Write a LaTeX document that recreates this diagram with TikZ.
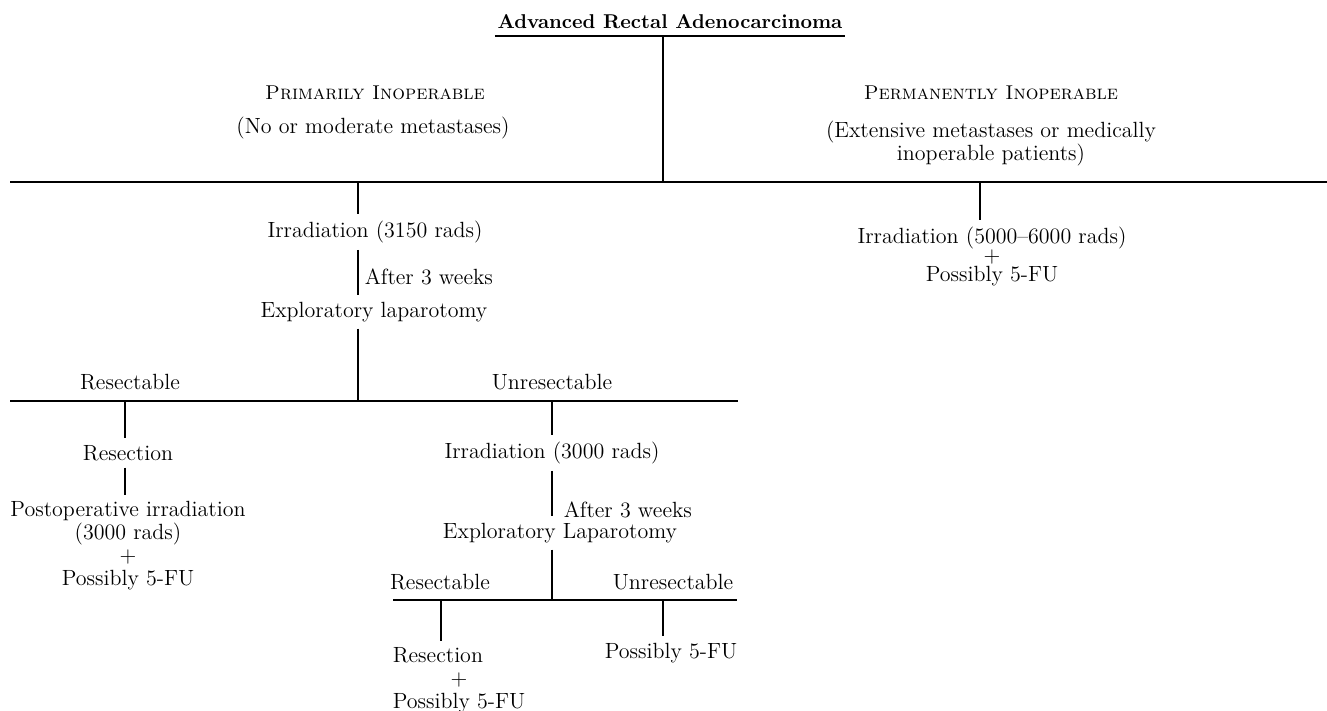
\documentclass[tikz,border=0pt]{standalone}
\usepackage{calc}
\usetikzlibrary{positioning}
\begin{document}
\begin{tikzpicture}[x=0.5pt,y=-0.5pt,line width=0.8pt,
    every node/.style={font=\fontsize{11}{11.5}\selectfont,inner xsep=1pt,inner ysep=3pt,align=center},
    kopf/.style={font=\fontsize{10}{11.5}\selectfont\scshape}]
  \useasboundingbox (0,0) rectangle (1327,711);
  % Kopf und die zwei Gruppen
  \node[font=\fontsize{10}{11.5}\selectfont\bfseries] (T) at (670,22) {Advanced Rectal Adenocarcinoma};
  \node[kopf] (prim) at (375,93) {Primarily Inoperable};
  \node (primx) at (373,128) {(No or moderate metastases)};
  \node[kopf] (perm) at (991,93) {Permanently Inoperable};
  \node (permx) at (991,144) {(Extensive metastases or medically\\inoperable patients)};
  \path (10,182)coordinate(L0)(1327,182)coordinate(R0)(663,182)coordinate(T0)(358,182)coordinate(P0)(980,182)coordinate(Q0);
  % rechter Zweig
  \node (irrc) at (992,256) {Irradiation (5000--6000 rads)\\[-2pt]+\\[-2pt]Possibly 5-FU};
  % linker Zweig
  \node (irra) at (375,232) {Irradiation (3150 rads)};
  \node[anchor=west] (wa) at (362,277) {After 3 weeks};
  \node (expa) at (374,312) {Exploratory laparotomy};
  \node (resl) at (130,382) {Resectable};
  \node (unrl) at (552,382) {Unresectable};
  \path (10,401)coordinate(L1)(738,401)coordinate(R1)(358,401)coordinate(P1)(125,401)coordinate(A1)(552,401)coordinate(B1);
  \node (reca) at (128,453) {Resection};
  \node (post) at (128,546) {Postoperative irradiation\\(3000 rads)\\+\\Possibly 5-FU};
  \node (irrb) at (552,453) {Irradiation (3000 rads)};
  \node[anchor=west] (wb) at (561,510) {After 3 weeks};
  \node (expb) at (560,533) {Exploratory Laparotomy};
  \node (resm) at (440,582) {Resectable};
  \node (unrm) at (673,582) {Unresectable};
  \path (393,600)coordinate(L2)(737,600)coordinate(R2)(552,600)coordinate(B2)(441,600)coordinate(C2)(663,600)coordinate(D2);
  \node[anchor=north west,align=left] (recb) at (390,641) {Resection\\\makebox[\widthof{Possibly 5-FU}]{+}\\Possibly 5-FU};
  \node (posb) at (671,653) {Possibly 5-FU};
  % Linien
  \draw (T.south west)--(T.south east) (T.south -| T0)--(T0) (L0)--(R0);
  \draw (Q0)--(Q0 |- irrc.north);
  \draw (P0)--(P0 |- irra.north) (irra.south -| P0)--(expa.north -| P0) (expa.south -| P0)--(P1) (L1)--(R1);
  \draw (A1)--(A1 |- reca.north) (reca.south -| A1)--(post.north -| A1);
  \draw (B1)--(B1 |- irrb.north) (irrb.south -| B1)--(expb.north -| B1) (expb.south -| B1)--(B2) (L2)--(R2);
  \draw (C2)--(C2 |- recb.north) (D2)--(D2 |- posb.north);
\end{tikzpicture}
\end{document}
